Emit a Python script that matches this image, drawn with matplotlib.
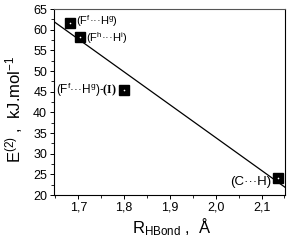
import numpy as np
import matplotlib
matplotlib.use("Agg")
import matplotlib.pyplot as plt
from matplotlib.ticker import MultipleLocator, FuncFormatter

plt.rcParams['font.family'] = ['Liberation Sans', 'DejaVu Sans']
plt.rcParams['mathtext.fontset'] = 'custom'
plt.rcParams['mathtext.rm'] = 'Liberation Sans'
plt.rcParams['mathtext.it'] = 'Liberation Sans'
plt.rcParams['mathtext.bf'] = 'Liberation Serif:bold'

r_hbond = [1.682, 1.704, 1.800, 2.137]
energy = [61.6, 58.2, 45.4, 24.1]
labels = [r"(F$^{\mathrm{f}}$···H$^{\mathrm{g}}$)",
          r"(F$^{\mathrm{h}}$···H$^{\mathrm{i}}$)",
          r"(F$^{\mathrm{f}}$···H$^{\mathrm{g}}$)-$\mathbf{(I)}$",
          r"(C···H)"]
label_offsets = [(4, 1.5), (4, -1), (-5, 0), (-5, -3)]
label_ha = ['left', 'left', 'right', 'right']
label_size = [8, 8, 8.5, 9.5]

fig = plt.figure(figsize=(2.91, 2.40), dpi=100)
ax = fig.add_axes([0.186, 0.1875, 0.793, 0.775])

xlim = (1.647, 2.151)
slope, intercept = np.polyfit(r_hbond, energy, 1)
xs = np.array(xlim)
ax.plot(xs, slope * xs + intercept, color='black', lw=0.9)

ax.plot(r_hbond, energy, 's', color='black', markersize=7)
ax.plot(r_hbond, energy, 'o', color='white', markersize=1.2, markeredgewidth=0)

for x, y, t, off, ha, fs in zip(r_hbond, energy, labels, label_offsets, label_ha, label_size):
    ax.annotate(t, (x, y), xytext=off, textcoords='offset points',
                ha=ha, va='center', fontsize=fs)

ax.set_xlim(*xlim)
ax.set_ylim(20, 65)
ax.xaxis.set_major_locator(MultipleLocator(0.1))
ax.xaxis.set_minor_locator(MultipleLocator(0.05))
ax.yaxis.set_major_locator(MultipleLocator(5))
ax.yaxis.set_minor_locator(MultipleLocator(2.5))
ax.xaxis.set_major_formatter(FuncFormatter(lambda v, p: f"{v:.1f}".replace('.', ',')))
ax.tick_params(which='both', direction='out', labelsize=9, top=False, right=False)
ax.tick_params(which='major', length=3, width=0.7, pad=2)
ax.tick_params(which='minor', length=2, width=0.6)
for s in ax.spines.values():
    s.set_linewidth(0.8)
ax.spines['top'].set_color('#555555')

fig.text(172 / 291, 1 - 233 / 240, r"R$_{\mathrm{HBond}}$ ,  Å", fontsize=12,
         ha='center', va='baseline')
fig.text(14 / 291, 1 - 109 / 240, r"E$^{(2)}$ ,  kJ.mol$^{-1}$", fontsize=12,
         ha='center', va='center', rotation=90)

fig.savefig("out.png", dpi=100)
